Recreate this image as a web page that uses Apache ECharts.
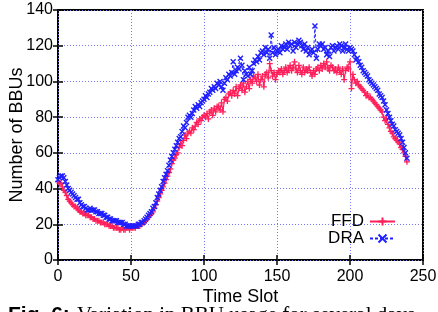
<!DOCTYPE html>
<html>
<head>
<meta charset="utf-8">
<script src="https://cdn.jsdelivr.net/npm/echarts@6/dist/echarts.min.js"></script>
<style>
  html, body { margin: 0; padding: 0; background: #fff; }
  #chart { width: 438px; height: 312px; }
</style>
</head>
<body>
<div id="chart"></div>
<script>
// time slots 0..239
const slots = Array.from({ length: 240 }, (_, i) => i);

// FFD values
const ffd = [
  44, 43, 43, 41, 39, 38, 36, 34, 33, 32,
  31, 30, 30, 29, 28, 27, 27, 26, 26, 25,
  25, 25, 24, 24, 23, 23, 22, 22, 22, 21,
  21, 21, 20, 20, 20, 19, 19, 19, 18, 18,
  18, 18, 17, 17, 18, 17, 17, 18, 18, 17,
  18, 18, 18, 18, 19, 19, 19, 20, 21, 21,
  22, 23, 24, 25, 26, 27, 29, 31, 33, 35,
  37, 39, 41, 43, 45, 47, 49, 51, 54, 56,
  57, 59, 60, 63, 65, 64, 67, 70, 68, 71,
  72, 71, 74, 73, 75, 77, 76, 79, 78, 80,
  81, 80, 82, 79, 83, 84, 81, 85, 83, 86,
  86, 84, 88, 83, 90, 91, 89, 93, 94, 92,
  95, 93, 97, 92, 96, 98, 95, 99, 94, 97,
  100, 96, 101, 99, 103, 102, 100, 104, 98, 101,
  103, 97, 104, 105, 102, 110, 106, 103, 105, 101,
  104, 106, 105, 107, 104, 106, 108, 105, 107, 109,
  106, 108, 111, 107, 105, 109, 106, 104, 108, 105,
  107, 106, 108, 105, 103, 106, 104, 107, 108, 106,
  109, 107, 110, 108, 111, 107, 106, 109, 108, 106,
  107, 105, 108, 106, 104, 107, 101, 106, 108, 107,
  111, 96, 104, 101, 99, 100, 98, 97, 96, 95,
  94, 92, 93, 91, 91, 90, 89, 88, 87, 86,
  85, 84, 83, 80, 78, 79, 76, 74, 72, 71,
  69, 68, 67, 66, 65, 63, 62, 60, 58, 55
];

// DRA values
const dra = [
  45, 46, 47, 47, 46, 44, 42, 40, 39, 38,
  37, 36, 35, 34, 34, 32, 31, 30, 30, 29,
  28, 28, 29, 28, 28, 28, 27, 27, 26, 26,
  26, 25, 25, 24, 24, 23, 23, 22, 22, 22,
  22, 21, 21, 21, 21, 20, 20, 19, 19, 19,
  19, 19, 19, 19, 19, 20, 20, 21, 21, 22,
  23, 24, 25, 26, 27, 29, 30, 32, 35, 37,
  39, 41, 44, 46, 48, 50, 53, 56, 58, 60,
  62, 64, 66, 68, 69, 72, 75, 74, 77, 80,
  81, 80, 82, 84, 86, 85, 87, 86, 88, 89,
  90, 92, 91, 93, 94, 96, 95, 97, 96, 99,
  98, 100, 97, 95, 99, 102, 101, 104, 103, 105,
  111, 104, 106, 108, 107, 113, 109, 101, 106, 104,
  103, 108, 104, 106, 110, 112, 111, 114, 112, 116,
  117, 115, 119, 116, 118, 113, 126, 116, 119, 115,
  117, 118, 116, 120, 118, 119, 121, 118, 122, 120,
  121, 117, 122, 119, 121, 123, 122, 120, 118, 121,
  117, 119, 115, 117, 118, 116, 131, 113, 118, 121,
  120, 121, 118, 119, 115, 117, 114, 119, 120, 117,
  119, 120, 118, 121, 120, 117, 119, 121, 118, 117,
  119, 118, 117, 115, 112, 113, 111, 109, 108, 106,
  105, 104, 103, 101, 100, 99, 98, 97, 96, 95,
  93, 92, 91, 89, 87, 84, 82, 80, 78, 76,
  75, 73, 72, 71, 70, 68, 66, 63, 60, 57
];

const xTicks = { min: 0, max: 250, interval: 50 };
const yTicks = { min: 0, max: 140, interval: 20 };

const red = '#ff1f5a';
const blue = '#1f1fff';
const gridColor = '#7878ff';
const plusPath = 'path://M0,5L10,5M5,0L5,10';
const crossPath = 'path://M0,0L10,10M10,0L0,10';

const chart = echarts.init(document.getElementById('chart'));

const sans = 'Liberation Sans';

function mirrorAxis(base) {
  return Object.assign({}, base, {
    axisLabel: { show: false },
    splitLine: { show: false },
    axisLine: { show: false },
    axisTick: { show: true, inside: true, length: 5, lineStyle: { color: '#000', width: 1.5 } }
  });
}

const xBase = {
  type: 'value', min: xTicks.min, max: xTicks.max, interval: xTicks.interval
};
const yBase = {
  type: 'value', min: yTicks.min, max: yTicks.max, interval: yTicks.interval
};

chart.setOption({
  animation: false,
  grid: {
    left: 58, right: 15, top: 10, bottom: 52,
    outerBoundsMode: 'none',
    containLabel: false,
    show: true, borderColor: '#000', borderWidth: 2, backgroundColor: 'transparent'
  },
  legend: {
    orient: 'vertical',
    right: 42,
    top: 213,
    padding: 0,
    itemGap: 0,
    align: 'right',
    itemWidth: 25,
    itemHeight: 10,
    textStyle: { fontFamily: sans, fontSize: 17, color: '#000', lineHeight: 15, padding: [0, 1, 0, 0] },
    data: ['FFD', 'DRA']
  },
  xAxis: [
    Object.assign({}, xBase, {
      position: 'bottom',
      name: 'Time Slot',
      nameLocation: 'middle',
      nameGap: 28,
      nameMoveOverlap: false,
      nameTextStyle: { fontFamily: sans, fontSize: 18, color: '#000' },
      axisLine: { show: false },
      axisTick: { show: true, inside: true, length: 5, lineStyle: { color: '#000', width: 1.5 } },
      axisLabel: { fontFamily: sans, fontSize: 16, color: '#000', margin: 9 },
      splitLine: { show: true, lineStyle: { color: gridColor, type: [1, 2], width: 1 } }
    }),
    mirrorAxis(Object.assign({}, xBase, { position: 'top' }))
  ],
  yAxis: [
    Object.assign({}, yBase, {
      position: 'left',
      name: 'Number of BBUs',
      nameLocation: 'middle',
      nameGap: 32,
      nameMoveOverlap: false,
      nameTextStyle: { fontFamily: sans, fontSize: 18, color: '#000' },
      axisLine: { show: false },
      axisTick: { show: true, inside: true, length: 5, lineStyle: { color: '#000', width: 1.5 } },
      axisLabel: { fontFamily: sans, fontSize: 16, color: '#000', margin: 5 },
      splitLine: { show: true, lineStyle: { color: gridColor, type: [1, 2], width: 1 } }
    }),
    mirrorAxis(Object.assign({}, yBase, { position: 'right' }))
  ],
  series: [
    {
      name: 'FFD',
      type: 'line',
      data: slots.map((t, i) => [t, ffd[i]]),
      symbol: plusPath,
      symbolSize: 6,
      showSymbol: true,
      itemStyle: { color: red, borderColor: red, borderWidth: 1.3 },
      lineStyle: { color: red, width: 1.2, type: 'solid' },
      z: 3
    },
    {
      name: 'DRA',
      type: 'line',
      data: slots.map((t, i) => [t, dra[i]]),
      symbol: crossPath,
      symbolSize: 5,
      showSymbol: true,
      itemStyle: { color: blue, borderColor: blue, borderWidth: 1.4 },
      lineStyle: { color: blue, width: 1, type: [3, 2] },
      z: 4
    }
  ],
  graphic: [
    {
      type: 'text', left: 8, top: 305,
      style: { text: 'Fig. 6:', font: 'bold 21px "Liberation Sans"', fill: '#000' }
    },
    {
      type: 'text', left: 77, top: 305,
      style: { text: 'Variation in BBU usage for several days', font: '21px "Liberation Serif"', fill: '#000' }
    }
  ]
});
</script>
</body>
</html>
